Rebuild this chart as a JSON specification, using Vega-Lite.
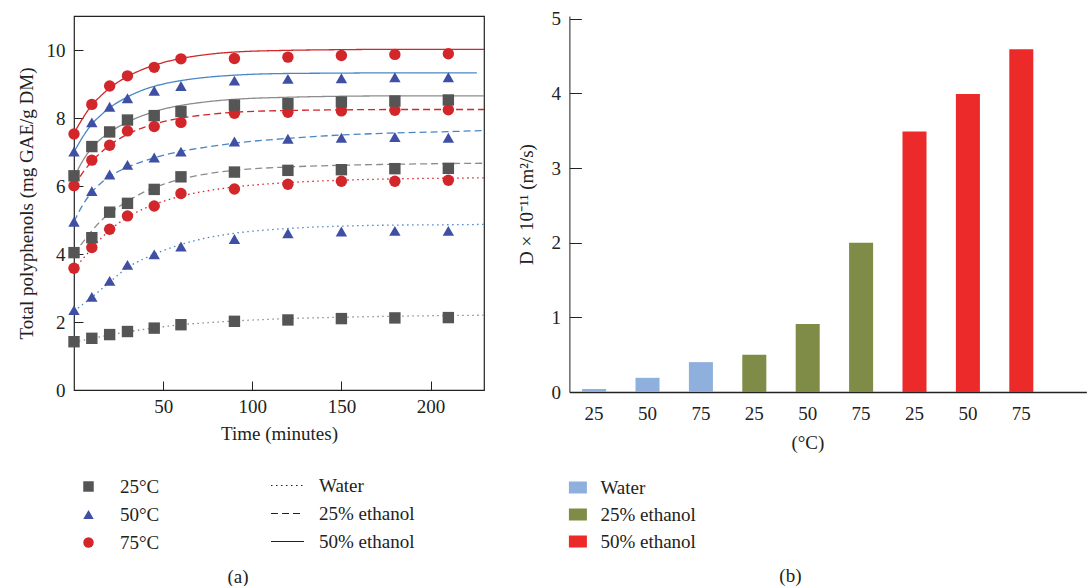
{
  "$schema": "https://vega.github.io/schema/vega-lite/v6.json",
  "background": "white",
  "padding": {"left": 16, "top": 9, "right": 0, "bottom": 0},
  "spacing": 32.4,
  "resolve": {
    "scale": {"color": "independent", "fill": "independent", "stroke": "independent", "shape": "independent", "strokeDash": "independent"},
    "legend": {"color": "independent", "fill": "independent", "stroke": "independent", "shape": "independent", "strokeDash": "independent"}
  },
  "config": {
    "font": "Liberation Serif",
    "view": {"stroke": null},
    "axis": {"labelFont": "Liberation Serif", "titleFont": "Liberation Serif", "labelFontSize": 19, "titleFontSize": 19, "titleFontWeight": "normal", "labelColor": "#222", "titleColor": "#222", "domainColor": "#222", "tickColor": "#222", "grid": false},
    "legend": {"labelFont": "Liberation Serif", "labelFontSize": 19, "labelColor": "#222", "padding": 0},
    "title": {"font": "Liberation Serif", "fontSize": 19, "fontWeight": "normal", "color": "#222"}
  },
  "datasets": {
    "curves": [
      {"temp": "25°C", "solvent": "Water", "t": 0, "v": 1.40}, {"temp": "25°C", "solvent": "Water", "t": 5, "v": 1.46}, {"temp": "25°C", "solvent": "Water", "t": 10, "v": 1.52}, {"temp": "25°C", "solvent": "Water", "t": 15, "v": 1.57}, {"temp": "25°C", "solvent": "Water", "t": 20, "v": 1.62}, {"temp": "25°C", "solvent": "Water", "t": 30, "v": 1.71}, {"temp": "25°C", "solvent": "Water", "t": 40, "v": 1.79}, {"temp": "25°C", "solvent": "Water", "t": 50, "v": 1.86}, {"temp": "25°C", "solvent": "Water", "t": 60, "v": 1.92}, {"temp": "25°C", "solvent": "Water", "t": 75, "v": 1.98}, {"temp": "25°C", "solvent": "Water", "t": 90, "v": 2.03}, {"temp": "25°C", "solvent": "Water", "t": 120, "v": 2.10}, {"temp": "25°C", "solvent": "Water", "t": 150, "v": 2.14}, {"temp": "25°C", "solvent": "Water", "t": 180, "v": 2.17}, {"temp": "25°C", "solvent": "Water", "t": 210, "v": 2.19}, {"temp": "25°C", "solvent": "Water", "t": 230, "v": 2.20},
      {"temp": "50°C", "solvent": "Water", "t": 0, "v": 2.32}, {"temp": "50°C", "solvent": "Water", "t": 5, "v": 2.52}, {"temp": "50°C", "solvent": "Water", "t": 10, "v": 2.73}, {"temp": "50°C", "solvent": "Water", "t": 15, "v": 2.95}, {"temp": "50°C", "solvent": "Water", "t": 20, "v": 3.17}, {"temp": "50°C", "solvent": "Water", "t": 30, "v": 3.60}, {"temp": "50°C", "solvent": "Water", "t": 40, "v": 3.88}, {"temp": "50°C", "solvent": "Water", "t": 50, "v": 4.10}, {"temp": "50°C", "solvent": "Water", "t": 60, "v": 4.28}, {"temp": "50°C", "solvent": "Water", "t": 75, "v": 4.48}, {"temp": "50°C", "solvent": "Water", "t": 90, "v": 4.61}, {"temp": "50°C", "solvent": "Water", "t": 120, "v": 4.75}, {"temp": "50°C", "solvent": "Water", "t": 150, "v": 4.82}, {"temp": "50°C", "solvent": "Water", "t": 180, "v": 4.85}, {"temp": "50°C", "solvent": "Water", "t": 210, "v": 4.86}, {"temp": "50°C", "solvent": "Water", "t": 230, "v": 4.87},
      {"temp": "75°C", "solvent": "Water", "t": 0, "v": 3.55}, {"temp": "75°C", "solvent": "Water", "t": 5, "v": 3.86}, {"temp": "75°C", "solvent": "Water", "t": 10, "v": 4.16}, {"temp": "75°C", "solvent": "Water", "t": 15, "v": 4.45}, {"temp": "75°C", "solvent": "Water", "t": 20, "v": 4.70}, {"temp": "75°C", "solvent": "Water", "t": 30, "v": 5.08}, {"temp": "75°C", "solvent": "Water", "t": 40, "v": 5.35}, {"temp": "75°C", "solvent": "Water", "t": 50, "v": 5.55}, {"temp": "75°C", "solvent": "Water", "t": 60, "v": 5.70}, {"temp": "75°C", "solvent": "Water", "t": 75, "v": 5.86}, {"temp": "75°C", "solvent": "Water", "t": 90, "v": 5.97}, {"temp": "75°C", "solvent": "Water", "t": 120, "v": 6.10}, {"temp": "75°C", "solvent": "Water", "t": 150, "v": 6.17}, {"temp": "75°C", "solvent": "Water", "t": 180, "v": 6.21}, {"temp": "75°C", "solvent": "Water", "t": 210, "v": 6.23}, {"temp": "75°C", "solvent": "Water", "t": 230, "v": 6.24},
      {"temp": "25°C", "solvent": "25% ethanol", "t": 0, "v": 4.00}, {"temp": "25°C", "solvent": "25% ethanol", "t": 5, "v": 4.35}, {"temp": "25°C", "solvent": "25% ethanol", "t": 10, "v": 4.68}, {"temp": "25°C", "solvent": "25% ethanol", "t": 15, "v": 4.97}, {"temp": "25°C", "solvent": "25% ethanol", "t": 20, "v": 5.20}, {"temp": "25°C", "solvent": "25% ethanol", "t": 30, "v": 5.55}, {"temp": "25°C", "solvent": "25% ethanol", "t": 40, "v": 5.84}, {"temp": "25°C", "solvent": "25% ethanol", "t": 50, "v": 6.05}, {"temp": "25°C", "solvent": "25% ethanol", "t": 60, "v": 6.20}, {"temp": "25°C", "solvent": "25% ethanol", "t": 75, "v": 6.36}, {"temp": "25°C", "solvent": "25% ethanol", "t": 90, "v": 6.46}, {"temp": "25°C", "solvent": "25% ethanol", "t": 120, "v": 6.56}, {"temp": "25°C", "solvent": "25% ethanol", "t": 150, "v": 6.61}, {"temp": "25°C", "solvent": "25% ethanol", "t": 180, "v": 6.64}, {"temp": "25°C", "solvent": "25% ethanol", "t": 210, "v": 6.66}, {"temp": "25°C", "solvent": "25% ethanol", "t": 230, "v": 6.67},
      {"temp": "50°C", "solvent": "25% ethanol", "t": 0, "v": 4.95}, {"temp": "50°C", "solvent": "25% ethanol", "t": 5, "v": 5.45}, {"temp": "50°C", "solvent": "25% ethanol", "t": 10, "v": 5.82}, {"temp": "50°C", "solvent": "25% ethanol", "t": 15, "v": 6.08}, {"temp": "50°C", "solvent": "25% ethanol", "t": 20, "v": 6.28}, {"temp": "50°C", "solvent": "25% ethanol", "t": 30, "v": 6.55}, {"temp": "50°C", "solvent": "25% ethanol", "t": 40, "v": 6.75}, {"temp": "50°C", "solvent": "25% ethanol", "t": 50, "v": 6.90}, {"temp": "50°C", "solvent": "25% ethanol", "t": 60, "v": 7.02}, {"temp": "50°C", "solvent": "25% ethanol", "t": 75, "v": 7.15}, {"temp": "50°C", "solvent": "25% ethanol", "t": 90, "v": 7.26}, {"temp": "50°C", "solvent": "25% ethanol", "t": 120, "v": 7.40}, {"temp": "50°C", "solvent": "25% ethanol", "t": 150, "v": 7.50}, {"temp": "50°C", "solvent": "25% ethanol", "t": 180, "v": 7.56}, {"temp": "50°C", "solvent": "25% ethanol", "t": 210, "v": 7.60}, {"temp": "50°C", "solvent": "25% ethanol", "t": 230, "v": 7.63},
      {"temp": "75°C", "solvent": "25% ethanol", "t": 0, "v": 6.00}, {"temp": "75°C", "solvent": "25% ethanol", "t": 5, "v": 6.40}, {"temp": "75°C", "solvent": "25% ethanol", "t": 10, "v": 6.72}, {"temp": "75°C", "solvent": "25% ethanol", "t": 15, "v": 6.98}, {"temp": "75°C", "solvent": "25% ethanol", "t": 20, "v": 7.20}, {"temp": "75°C", "solvent": "25% ethanol", "t": 30, "v": 7.52}, {"temp": "75°C", "solvent": "25% ethanol", "t": 40, "v": 7.74}, {"temp": "75°C", "solvent": "25% ethanol", "t": 50, "v": 7.89}, {"temp": "75°C", "solvent": "25% ethanol", "t": 60, "v": 8.00}, {"temp": "75°C", "solvent": "25% ethanol", "t": 75, "v": 8.10}, {"temp": "75°C", "solvent": "25% ethanol", "t": 90, "v": 8.17}, {"temp": "75°C", "solvent": "25% ethanol", "t": 120, "v": 8.22}, {"temp": "75°C", "solvent": "25% ethanol", "t": 150, "v": 8.24}, {"temp": "75°C", "solvent": "25% ethanol", "t": 180, "v": 8.25}, {"temp": "75°C", "solvent": "25% ethanol", "t": 210, "v": 8.25}, {"temp": "75°C", "solvent": "25% ethanol", "t": 230, "v": 8.25},
      {"temp": "25°C", "solvent": "50% ethanol", "t": 0, "v": 6.25}, {"temp": "25°C", "solvent": "50% ethanol", "t": 5, "v": 6.75}, {"temp": "25°C", "solvent": "50% ethanol", "t": 10, "v": 7.12}, {"temp": "25°C", "solvent": "50% ethanol", "t": 15, "v": 7.38}, {"temp": "25°C", "solvent": "50% ethanol", "t": 20, "v": 7.58}, {"temp": "25°C", "solvent": "50% ethanol", "t": 30, "v": 7.88}, {"temp": "25°C", "solvent": "50% ethanol", "t": 40, "v": 8.10}, {"temp": "25°C", "solvent": "50% ethanol", "t": 50, "v": 8.26}, {"temp": "25°C", "solvent": "50% ethanol", "t": 60, "v": 8.37}, {"temp": "25°C", "solvent": "50% ethanol", "t": 75, "v": 8.48}, {"temp": "25°C", "solvent": "50% ethanol", "t": 90, "v": 8.55}, {"temp": "25°C", "solvent": "50% ethanol", "t": 120, "v": 8.61}, {"temp": "25°C", "solvent": "50% ethanol", "t": 150, "v": 8.64}, {"temp": "25°C", "solvent": "50% ethanol", "t": 180, "v": 8.65}, {"temp": "25°C", "solvent": "50% ethanol", "t": 210, "v": 8.65}, {"temp": "25°C", "solvent": "50% ethanol", "t": 230, "v": 8.65},
      {"temp": "50°C", "solvent": "50% ethanol", "t": 0, "v": 7.00}, {"temp": "50°C", "solvent": "50% ethanol", "t": 5, "v": 7.45}, {"temp": "50°C", "solvent": "50% ethanol", "t": 10, "v": 7.82}, {"temp": "50°C", "solvent": "50% ethanol", "t": 15, "v": 8.08}, {"temp": "50°C", "solvent": "50% ethanol", "t": 20, "v": 8.30}, {"temp": "50°C", "solvent": "50% ethanol", "t": 30, "v": 8.62}, {"temp": "50°C", "solvent": "50% ethanol", "t": 40, "v": 8.85}, {"temp": "50°C", "solvent": "50% ethanol", "t": 50, "v": 9.00}, {"temp": "50°C", "solvent": "50% ethanol", "t": 60, "v": 9.10}, {"temp": "50°C", "solvent": "50% ethanol", "t": 75, "v": 9.20}, {"temp": "50°C", "solvent": "50% ethanol", "t": 90, "v": 9.26}, {"temp": "50°C", "solvent": "50% ethanol", "t": 120, "v": 9.31}, {"temp": "50°C", "solvent": "50% ethanol", "t": 150, "v": 9.32}, {"temp": "50°C", "solvent": "50% ethanol", "t": 180, "v": 9.33}, {"temp": "50°C", "solvent": "50% ethanol", "t": 210, "v": 9.33}, {"temp": "50°C", "solvent": "50% ethanol", "t": 226, "v": 9.33},
      {"temp": "75°C", "solvent": "50% ethanol", "t": 0, "v": 7.55}, {"temp": "75°C", "solvent": "50% ethanol", "t": 5, "v": 8.00}, {"temp": "75°C", "solvent": "50% ethanol", "t": 10, "v": 8.38}, {"temp": "75°C", "solvent": "50% ethanol", "t": 15, "v": 8.65}, {"temp": "75°C", "solvent": "50% ethanol", "t": 20, "v": 8.88}, {"temp": "75°C", "solvent": "50% ethanol", "t": 30, "v": 9.22}, {"temp": "75°C", "solvent": "50% ethanol", "t": 40, "v": 9.46}, {"temp": "75°C", "solvent": "50% ethanol", "t": 50, "v": 9.63}, {"temp": "75°C", "solvent": "50% ethanol", "t": 60, "v": 9.75}, {"temp": "75°C", "solvent": "50% ethanol", "t": 75, "v": 9.87}, {"temp": "75°C", "solvent": "50% ethanol", "t": 90, "v": 9.94}, {"temp": "75°C", "solvent": "50% ethanol", "t": 120, "v": 9.99}, {"temp": "75°C", "solvent": "50% ethanol", "t": 150, "v": 10.01}, {"temp": "75°C", "solvent": "50% ethanol", "t": 180, "v": 10.02}, {"temp": "75°C", "solvent": "50% ethanol", "t": 210, "v": 10.02}, {"temp": "75°C", "solvent": "50% ethanol", "t": 230, "v": 10.02}
    ],
    "obs": [
      {"temp": "25°C", "solvent": "Water", "t": 0, "v": 1.42}, {"temp": "25°C", "solvent": "Water", "t": 10, "v": 1.52}, {"temp": "25°C", "solvent": "Water", "t": 20, "v": 1.63}, {"temp": "25°C", "solvent": "Water", "t": 30, "v": 1.72}, {"temp": "25°C", "solvent": "Water", "t": 45, "v": 1.82}, {"temp": "25°C", "solvent": "Water", "t": 60, "v": 1.92}, {"temp": "25°C", "solvent": "Water", "t": 90, "v": 2.02}, {"temp": "25°C", "solvent": "Water", "t": 120, "v": 2.06}, {"temp": "25°C", "solvent": "Water", "t": 150, "v": 2.10}, {"temp": "25°C", "solvent": "Water", "t": 180, "v": 2.12}, {"temp": "25°C", "solvent": "Water", "t": 210, "v": 2.13},
      {"temp": "50°C", "solvent": "Water", "t": 0, "v": 2.35}, {"temp": "50°C", "solvent": "Water", "t": 10, "v": 2.74}, {"temp": "50°C", "solvent": "Water", "t": 20, "v": 3.21}, {"temp": "50°C", "solvent": "Water", "t": 30, "v": 3.68}, {"temp": "50°C", "solvent": "Water", "t": 45, "v": 3.99}, {"temp": "50°C", "solvent": "Water", "t": 60, "v": 4.22}, {"temp": "50°C", "solvent": "Water", "t": 90, "v": 4.44}, {"temp": "50°C", "solvent": "Water", "t": 120, "v": 4.61}, {"temp": "50°C", "solvent": "Water", "t": 150, "v": 4.66}, {"temp": "50°C", "solvent": "Water", "t": 180, "v": 4.68}, {"temp": "50°C", "solvent": "Water", "t": 210, "v": 4.68},
      {"temp": "75°C", "solvent": "Water", "t": 0, "v": 3.58}, {"temp": "75°C", "solvent": "Water", "t": 10, "v": 4.19}, {"temp": "75°C", "solvent": "Water", "t": 20, "v": 4.73}, {"temp": "75°C", "solvent": "Water", "t": 30, "v": 5.12}, {"temp": "75°C", "solvent": "Water", "t": 45, "v": 5.41}, {"temp": "75°C", "solvent": "Water", "t": 60, "v": 5.78}, {"temp": "75°C", "solvent": "Water", "t": 90, "v": 5.91}, {"temp": "75°C", "solvent": "Water", "t": 120, "v": 6.05}, {"temp": "75°C", "solvent": "Water", "t": 150, "v": 6.14}, {"temp": "75°C", "solvent": "Water", "t": 180, "v": 6.14}, {"temp": "75°C", "solvent": "Water", "t": 210, "v": 6.17},
      {"temp": "25°C", "solvent": "25% ethanol", "t": 0, "v": 4.04}, {"temp": "25°C", "solvent": "25% ethanol", "t": 10, "v": 4.48}, {"temp": "25°C", "solvent": "25% ethanol", "t": 20, "v": 5.23}, {"temp": "25°C", "solvent": "25% ethanol", "t": 30, "v": 5.49}, {"temp": "25°C", "solvent": "25% ethanol", "t": 45, "v": 5.90}, {"temp": "25°C", "solvent": "25% ethanol", "t": 60, "v": 6.27}, {"temp": "25°C", "solvent": "25% ethanol", "t": 90, "v": 6.41}, {"temp": "25°C", "solvent": "25% ethanol", "t": 120, "v": 6.46}, {"temp": "25°C", "solvent": "25% ethanol", "t": 150, "v": 6.48}, {"temp": "25°C", "solvent": "25% ethanol", "t": 180, "v": 6.51}, {"temp": "25°C", "solvent": "25% ethanol", "t": 210, "v": 6.52},
      {"temp": "50°C", "solvent": "25% ethanol", "t": 0, "v": 4.95}, {"temp": "50°C", "solvent": "25% ethanol", "t": 10, "v": 5.85}, {"temp": "50°C", "solvent": "25% ethanol", "t": 20, "v": 6.34}, {"temp": "50°C", "solvent": "25% ethanol", "t": 30, "v": 6.62}, {"temp": "50°C", "solvent": "25% ethanol", "t": 45, "v": 6.84}, {"temp": "50°C", "solvent": "25% ethanol", "t": 60, "v": 7.01}, {"temp": "50°C", "solvent": "25% ethanol", "t": 90, "v": 7.31}, {"temp": "50°C", "solvent": "25% ethanol", "t": 120, "v": 7.39}, {"temp": "50°C", "solvent": "25% ethanol", "t": 150, "v": 7.42}, {"temp": "50°C", "solvent": "25% ethanol", "t": 180, "v": 7.44}, {"temp": "50°C", "solvent": "25% ethanol", "t": 210, "v": 7.42},
      {"temp": "75°C", "solvent": "25% ethanol", "t": 0, "v": 6.01}, {"temp": "75°C", "solvent": "25% ethanol", "t": 10, "v": 6.76}, {"temp": "75°C", "solvent": "25% ethanol", "t": 20, "v": 7.20}, {"temp": "75°C", "solvent": "25% ethanol", "t": 30, "v": 7.62}, {"temp": "75°C", "solvent": "25% ethanol", "t": 45, "v": 7.75}, {"temp": "75°C", "solvent": "25% ethanol", "t": 60, "v": 7.87}, {"temp": "75°C", "solvent": "25% ethanol", "t": 90, "v": 8.14}, {"temp": "75°C", "solvent": "25% ethanol", "t": 120, "v": 8.17}, {"temp": "75°C", "solvent": "25% ethanol", "t": 150, "v": 8.21}, {"temp": "75°C", "solvent": "25% ethanol", "t": 180, "v": 8.23}, {"temp": "75°C", "solvent": "25% ethanol", "t": 210, "v": 8.24},
      {"temp": "25°C", "solvent": "50% ethanol", "t": 0, "v": 6.30}, {"temp": "25°C", "solvent": "50% ethanol", "t": 10, "v": 7.16}, {"temp": "25°C", "solvent": "50% ethanol", "t": 20, "v": 7.59}, {"temp": "25°C", "solvent": "50% ethanol", "t": 30, "v": 7.94}, {"temp": "25°C", "solvent": "50% ethanol", "t": 45, "v": 8.07}, {"temp": "25°C", "solvent": "50% ethanol", "t": 60, "v": 8.19}, {"temp": "25°C", "solvent": "50% ethanol", "t": 90, "v": 8.38}, {"temp": "25°C", "solvent": "50% ethanol", "t": 120, "v": 8.42}, {"temp": "25°C", "solvent": "50% ethanol", "t": 150, "v": 8.47}, {"temp": "25°C", "solvent": "50% ethanol", "t": 180, "v": 8.50}, {"temp": "25°C", "solvent": "50% ethanol", "t": 210, "v": 8.53},
      {"temp": "50°C", "solvent": "50% ethanol", "t": 0, "v": 7.01}, {"temp": "50°C", "solvent": "50% ethanol", "t": 10, "v": 7.87}, {"temp": "50°C", "solvent": "50% ethanol", "t": 20, "v": 8.33}, {"temp": "50°C", "solvent": "50% ethanol", "t": 30, "v": 8.58}, {"temp": "50°C", "solvent": "50% ethanol", "t": 45, "v": 8.80}, {"temp": "50°C", "solvent": "50% ethanol", "t": 60, "v": 8.94}, {"temp": "50°C", "solvent": "50% ethanol", "t": 90, "v": 9.10}, {"temp": "50°C", "solvent": "50% ethanol", "t": 120, "v": 9.15}, {"temp": "50°C", "solvent": "50% ethanol", "t": 150, "v": 9.17}, {"temp": "50°C", "solvent": "50% ethanol", "t": 180, "v": 9.20}, {"temp": "50°C", "solvent": "50% ethanol", "t": 210, "v": 9.20},
      {"temp": "75°C", "solvent": "50% ethanol", "t": 0, "v": 7.53}, {"temp": "75°C", "solvent": "50% ethanol", "t": 10, "v": 8.40}, {"temp": "75°C", "solvent": "50% ethanol", "t": 20, "v": 8.94}, {"temp": "75°C", "solvent": "50% ethanol", "t": 30, "v": 9.24}, {"temp": "75°C", "solvent": "50% ethanol", "t": 45, "v": 9.49}, {"temp": "75°C", "solvent": "50% ethanol", "t": 60, "v": 9.74}, {"temp": "75°C", "solvent": "50% ethanol", "t": 90, "v": 9.75}, {"temp": "75°C", "solvent": "50% ethanol", "t": 120, "v": 9.79}, {"temp": "75°C", "solvent": "50% ethanol", "t": 150, "v": 9.84}, {"temp": "75°C", "solvent": "50% ethanol", "t": 180, "v": 9.87}, {"temp": "75°C", "solvent": "50% ethanol", "t": 210, "v": 9.89}
    ],
    "bars": [
      {"cat": "Water|25", "solvent": "Water", "D": 0.04},
      {"cat": "Water|50", "solvent": "Water", "D": 0.19},
      {"cat": "Water|75", "solvent": "Water", "D": 0.40},
      {"cat": "E25|25", "solvent": "25% ethanol", "D": 0.50},
      {"cat": "E25|50", "solvent": "25% ethanol", "D": 0.91},
      {"cat": "E25|75", "solvent": "25% ethanol", "D": 2.00},
      {"cat": "E50|25", "solvent": "50% ethanol", "D": 3.49},
      {"cat": "E50|50", "solvent": "50% ethanol", "D": 3.99},
      {"cat": "E50|75", "solvent": "50% ethanol", "D": 4.59}
    ]
  },
  "hconcat": [
    {
      "width": 410,
      "height": 374,
      "view": {"stroke": "#222", "strokeWidth": 1.2},
      "title": {"text": "(a)", "orient": "bottom", "anchor": "middle", "frame": "group", "offset": 15, "dx": -41, "font": "Liberation Serif"},
      "layer": [
        {
          "data": {"name": "curves"},
          "mark": {"type": "line", "strokeWidth": 1.3, "interpolate": "monotone", "clip": true},
          "encoding": {
            "x": {"field": "t", "type": "quantitative", "scale": {"domain": [0, 230], "nice": false},
              "axis": {"values": [50, 100, 150, 200], "title": "Time (minutes)", "tickSize": -9, "labelPadding": 16, "titlePadding": 8, "domain": false, "labelFont": "Liberation Serif", "titleFont": "Liberation Serif"}},
            "y": {"field": "v", "type": "quantitative", "scale": {"domain": [0, 11], "nice": false},
              "axis": {"values": [0, 2, 4, 6, 8, 10], "title": "Total polyphenols (mg GAE/g DM)", "tickSize": -9, "labelPadding": 18, "titlePadding": 10, "domain": false, "labelFont": "Liberation Serif", "titleFont": "Liberation Serif"}},
            "stroke": {"field": "temp", "type": "nominal", "scale": {"range": ["#8c8c8c", "#4a86c6", "#d2262b"]}, "legend": null},
            "strokeDash": {"field": "solvent", "type": "nominal",
              "scale": {"domain": ["Water", "25% ethanol", "50% ethanol"], "range": [[1.5, 3.5], [7, 4], [1, 0]]},
              "legend": {"title": null, "orient": "none", "legendX": 196, "legendY": 452, "symbolType": "stroke", "symbolSize": 1089, "symbolStrokeColor": "#222", "symbolStrokeWidth": 1.2, "labelOffset": 14, "rowPadding": 0, "labelFont": "Liberation Serif", "labelFontSize": 19}}
          }
        },
        {
          "data": {"name": "obs"},
          "mark": {"type": "point", "filled": true, "opacity": 1, "size": 130},
          "encoding": {
            "x": {"field": "t", "type": "quantitative"},
            "y": {"field": "v", "type": "quantitative"},
            "color": {"field": "temp", "type": "nominal", "scale": {"domain": ["25°C", "50°C", "75°C"], "range": ["#555555", "#3f4fa3", "#d3262b"]},
              "legend": {"title": null, "orient": "none", "legendX": 5, "legendY": 461, "symbolSize": 110, "labelOffset": 22, "rowPadding": 8, "symbolOpacity": 1, "labelFont": "Liberation Serif", "labelFontSize": 19}},
            "shape": {"field": "temp", "type": "nominal", "scale": {"domain": ["25°C", "50°C", "75°C"], "range": ["square", "triangle-up", "circle"]},
              "legend": {"title": null, "orient": "none", "legendX": 5, "legendY": 461, "symbolSize": 110, "labelOffset": 22, "rowPadding": 8, "symbolOpacity": 1, "labelFont": "Liberation Serif", "labelFontSize": 19}}
          }
        }
      ]
    },
    {
      "width": 517,
      "height": 376,
      "data": {"name": "bars"},
      "title": {"text": "(b)", "orient": "bottom", "anchor": "middle", "frame": "group", "offset": 15, "dx": -37.5, "font": "Liberation Serif"},
      "mark": {"type": "bar"},
      "encoding": {
        "x": {"field": "cat", "type": "nominal", "sort": null,
          "scale": {"paddingInner": 0.55, "paddingOuter": 0.616, "align": 0.193},
          "axis": {"labelExpr": "split(datum.value, '|')[1]", "labelAngle": 0, "ticks": false, "labelPadding": 12, "title": "(°C)", "titleX": 238, "titlePadding": 10, "domainColor": "#222", "domainWidth": 1.3, "labelFont": "Liberation Serif", "titleFont": "Liberation Serif"}},
        "y": {"field": "D", "type": "quantitative", "scale": {"domain": [0, 5.036], "nice": false},
          "axis": {"values": [0, 1, 2, 3, 4, 5], "title": "D × 10⁻¹¹ (m²/s)", "tickSize": -12, "labelPadding": 21, "titlePadding": 14.5, "labelFont": "Liberation Serif", "titleFont": "Liberation Serif"}},
        "fill": {"field": "solvent", "type": "nominal", "sort": null,
          "scale": {"domain": ["Water", "25% ethanol", "50% ethanol"], "range": ["#8fb0dc", "#7e8c48", "#ec2a2a"]},
          "legend": {"title": null, "orient": "none", "legendX": -1, "legendY": 462, "symbolType": "M-1,-0.667H1V0.667H-1Z", "symbolSize": 324, "symbolStrokeWidth": 0, "labelOffset": 13, "rowPadding": 7, "labelFont": "Liberation Serif", "labelFontSize": 19}}
      }
    }
  ]
}
